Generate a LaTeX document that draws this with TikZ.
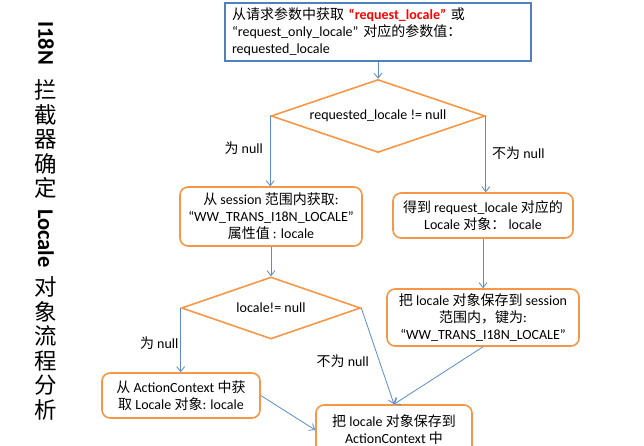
\documentclass[tikz,border=0pt]{standalone}
\usepackage{fontspec}
\setmainfont{Carlito}
\newfontfamily\cjk{Noto Sans CJK SC}
\usepackage{tikz}
\usetikzlibrary{arrows.meta}
\usetikzlibrary{shapes.geometric}
\usetikzlibrary{positioning}
\usetikzlibrary{calc}
\definecolor{box orange}{HTML}{F79646}
\definecolor{box blue}{HTML}{4F81BD}
\definecolor{link blue}{HTML}{5B8BC9}
\tikzstyle{link}=[draw=link blue,line width=0.8pt,-{Straight Barb[length=5pt,width=8pt]}]
\newcommand{\zh}[1]{{\cjk #1}}

\begin{document}
\begin{tikzpicture}[
  x=1pt,y=-1pt,
  font=\fontsize{14}{17}\selectfont,
  stepbox/.style={draw=box orange,line width=1.6pt,rounded corners=8pt,align=center,inner sep=2pt},
  decision/.style={diamond,draw=box orange,line width=1.6pt,aspect=2.9,inner sep=0pt},
  startbox/.style={draw=box blue,line width=2pt,align=left,inner xsep=6pt},
  branch/.style={font=\fontsize{14}{16}\selectfont,inner sep=1pt},
]
  \useasboundingbox (0,0) rectangle (644,446);
  % title down the left side
  \node[font=\fontsize{22.5}{24.5}\selectfont,align=center,anchor=north,inner sep=0pt] (title) at (46,21) {%
    \rotatebox{-90}{\bfseries I18N}\\[14pt]
    \zh{拦}\\\zh{截}\\\zh{器}\\\zh{确}\\\zh{定}\\[-12pt]
    \rotatebox{-90}{\bfseries Locale}\\[8pt]
    \zh{对}\\\zh{象}\\\zh{流}\\\zh{程}\\\zh{分}\\\zh{析}};

  \node[startbox,minimum width=306pt,minimum height=58pt,text width=292pt] (req) at (378,32)
    {\zh{从请求参数中获取} {\color{red}\bfseries “request\_locale”} \zh{或}\\
     “request\_only\_locale” \zh{对应的参数值：}\\
     requested\_locale};
  \node[decision,minimum width=214pt,minimum height=73pt] (chk) at (378,116) {requested\_locale != null};

  \node[stepbox,minimum width=182pt,minimum height=59pt] (sess) at (271,216.5)
    {\zh{从} session \zh{范围内获取}:\\“WW\_TRANS\_I18N\_LOCALE”\\\zh{属性值} : locale};
  \node[stepbox,minimum width=180pt,minimum height=45pt] (get) at (483,215.5)
    {\zh{得到} request\_locale \zh{对应的}\\Locale \zh{对象：} locale};

  \node[decision,minimum width=179pt,minimum height=62pt] (loc) at (271,308) {locale!= null};
  \node[stepbox,minimum width=192pt,minimum height=57pt] (save) at (483,317.5)
    {\zh{把} locale \zh{对象保存到} session\\\zh{范围内，键为}:\\“WW\_TRANS\_I18N\_LOCALE”};

  \node[stepbox,minimum width=158pt,minimum height=45pt] (ctx) at (181,395.5)
    {\zh{从} ActionContext \zh{中获}\\\zh{取} Locale \zh{对象}: locale};
  \node[stepbox,minimum width=156pt,minimum height=50pt] (put) at (394,430)
    {\zh{把} locale \zh{对象保存到}\\ActionContext \zh{中}};

  \draw[link] (req) -- (chk);
  \draw[link] (chk.west) -- (chk.west |- sess.north)
    node[branch,pos=0.46,left=6pt] (n1) {\zh{为} null};
  \draw[link] (chk.east) -- (chk.east |- get.north)
    node[branch,pos=0.49,right=5pt] (n2) {\zh{不为} null};
  \draw[link] (sess) -- (loc);
  \draw[link] (get) -- (save);
  \draw[link] (loc.west) -- (loc.west |- ctx.north)
    node[branch,pos=0.54,left=1pt] (n3) {\zh{为} null};
  \draw[link] (loc.east) -- (put.north)
    node[branch,pos=0.55,left=9pt] (n4) {\zh{不为} null};
  \draw[link] (save.south) -- (put.north);
  \draw[link] (ctx.east) -- (put.west);
\end{tikzpicture}
\end{document}
